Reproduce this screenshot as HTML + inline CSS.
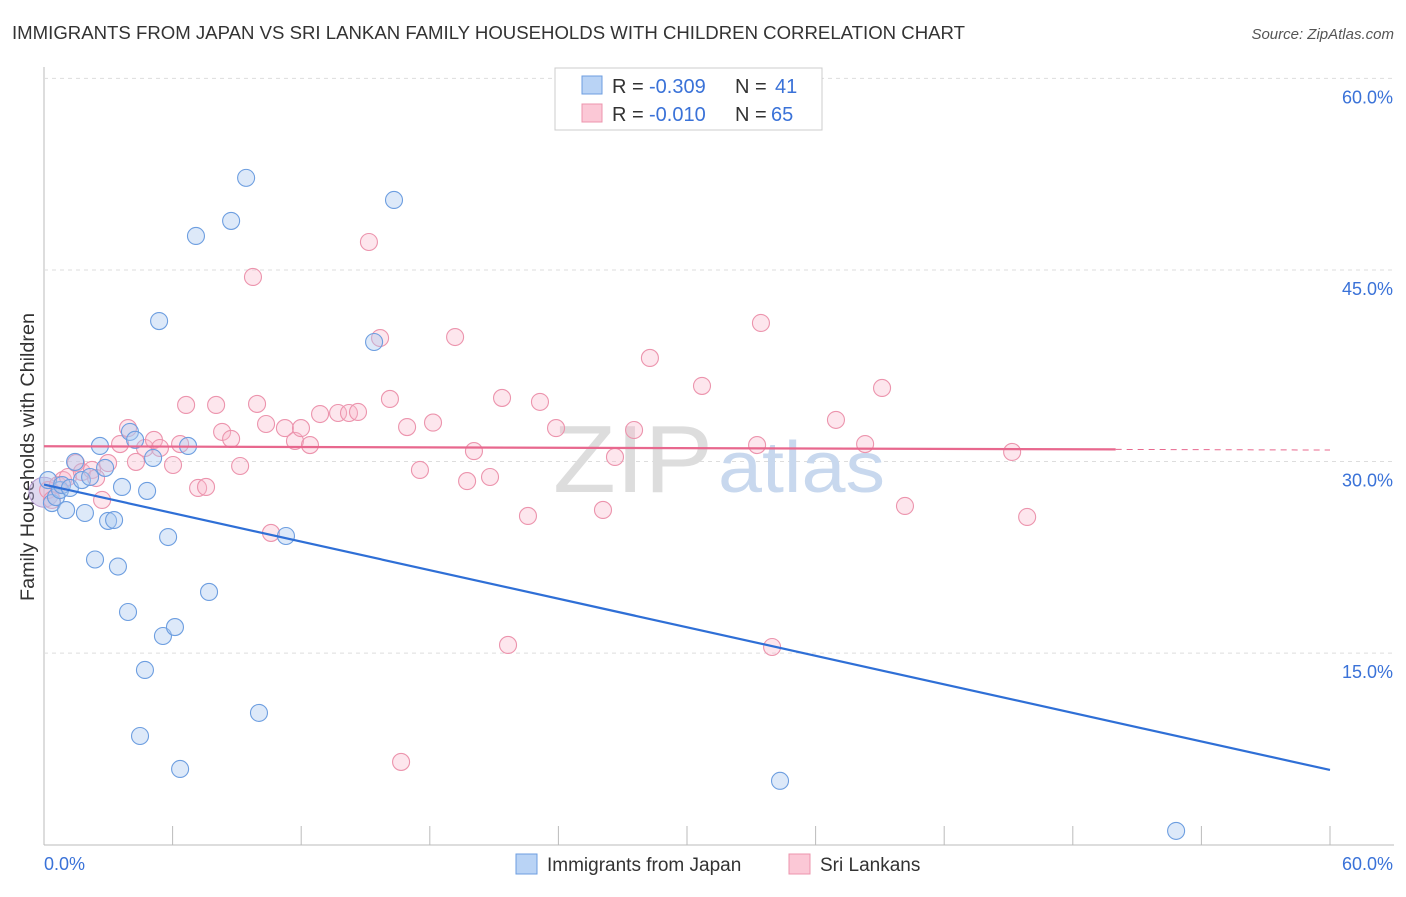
<!DOCTYPE html>
<html><head><meta charset="utf-8"><style>
body{margin:0;background:#fff;font-family:"Liberation Sans",sans-serif}
svg text{font-family:"Liberation Sans",sans-serif}
</style></head><body>
<svg id="chart" width="1406" height="892">
<text x="12" y="39" font-size="18" fill="#333" textLength="953" lengthAdjust="spacingAndGlyphs">IMMIGRANTS FROM JAPAN VS SRI LANKAN FAMILY HOUSEHOLDS WITH CHILDREN CORRELATION CHART</text>
<text x="1394" y="39" font-size="15" fill="#555" text-anchor="end" font-style="italic">Source: ZipAtlas.com</text>
<text x="0" y="0" transform="translate(34,457) rotate(-90)" font-size="19" fill="#333" text-anchor="middle" textLength="288" lengthAdjust="spacingAndGlyphs">Family Households with Children</text>
<g id="grid"></g>
<text x="553" y="492" font-size="96" fill="#ddd" font-family="Liberation Serif" textLength="160" lengthAdjust="spacingAndGlyphs">ZIP</text>
<text x="718" y="492" font-size="72" fill="#c8d8ee" textLength="167" lengthAdjust="spacingAndGlyphs">atlas</text>
<g id="pts"></g>
<g id="lines"></g>
<g>
<rect x="555" y="68" width="267" height="62" fill="#fff" stroke="#ccc"/>
<rect x="582" y="76" width="20" height="18" fill="#b9d3f5" stroke="#6d9ee0"/>
<rect x="582" y="104" width="20" height="18" fill="#fbc8d6" stroke="#ec94ad"/>
<text x="612" y="93" font-size="20" fill="#333">R =</text>
<text x="649" y="93" font-size="20" fill="#3a72d8">-0.309</text>
<text x="735" y="93" font-size="20" fill="#333">N =</text>
<text x="775" y="93" font-size="20" fill="#3a72d8">41</text>
<text x="612" y="121" font-size="20" fill="#333">R =</text>
<text x="649" y="121" font-size="20" fill="#3a72d8">-0.010</text>
<text x="735" y="121" font-size="20" fill="#333">N =</text>
<text x="771" y="121" font-size="20" fill="#3a72d8">65</text>
</g>
<g>
<rect x="516" y="854" width="21" height="20" fill="#b9d3f5" stroke="#6d9ee0"/>
<text x="547" y="871" font-size="19" fill="#333">Immigrants from Japan</text>
<rect x="789" y="854" width="21" height="20" fill="#fbc8d6" stroke="#ec94ad"/>
<text x="820" y="871" font-size="19" fill="#333">Sri Lankans</text>
</g>
<text x="44" y="870" font-size="18" fill="#3a72d8">0.0%</text>
<text x="1393" y="870" font-size="18" fill="#3a72d8" text-anchor="end">60.0%</text>
</svg>
<script>
const yTicks=[15,30,45,60];
const yTickLabels=["15.0%","30.0%","45.0%","60.0%"];
const xTicks=[0,6,12,18,24,30,36,42,48,54,60];
const japanX=[0.19,0.37,0.56,0.75,0.84,1.03,1.21,1.45,1.77,1.91,2.15,2.61,2.85,2.99,3.27,3.64,2.38,3.45,3.92,4.01,4.25,4.81,5.09,5.37,5.79,5.55,6.11,6.72,4.71,4.48,6.35,7.09,7.70,8.73,9.43,10.03,11.29,15.40,16.33,34.34,52.82];
const japanY=[28.55,26.75,27.22,27.77,28.16,26.20,27.93,29.97,28.55,25.97,28.79,31.22,29.50,25.35,25.42,28.01,22.33,21.78,18.22,32.32,31.70,27.70,30.28,41.00,24.09,16.34,17.04,31.22,13.68,8.51,5.93,47.66,19.79,48.84,52.21,10.32,24.17,39.36,50.48,5.0,1.08];
const sriX=[0.19,0.37,0.65,0.89,1.12,1.49,1.77,2.24,2.43,2.71,2.99,3.55,3.92,4.29,4.71,5.13,5.41,6.02,6.35,6.63,7.19,7.56,8.03,8.31,8.73,9.15,9.75,9.94,10.36,10.59,11.24,11.71,11.99,12.41,12.88,13.72,14.23,14.65,15.16,15.68,16.14,16.66,16.94,17.54,18.15,19.18,19.74,20.06,20.81,21.37,21.65,22.58,23.14,23.89,26.08,26.64,27.53,28.27,30.70,33.27,33.45,33.97,36.95,38.31,39.10,40.17,45.17,45.87];
const sriY=[27.77,26.99,28.16,28.55,28.79,29.88,29.18,29.34,28.71,26.99,29.88,31.37,32.62,29.97,31.06,31.69,31.06,29.73,31.37,34.43,27.93,28.01,34.43,32.32,31.77,29.65,44.45,34.51,32.94,24.41,32.62,31.61,32.62,31.29,33.72,33.80,33.80,33.88,47.19,39.67,34.90,6.48,32.70,29.34,33.05,39.75,28.47,30.82,28.79,34.98,15.64,25.74,34.67,32.62,26.21,30.36,32.47,38.11,35.92,31.29,40.85,15.48,33.26,31.37,35.76,26.52,30.75,25.66];
const japanTrend=[28.2,5.85];
const sriTrend=[31.2,30.9];
const sriSolidEnd=50;
const NS="http://www.w3.org/2000/svg";
const X=v=>44+v/60*1286, Y=v=>844.7-v*12.772;
function mk(tag,attrs,parent){const e=document.createElementNS(NS,tag);for(const k in attrs)e.setAttribute(k,attrs[k]);parent.appendChild(e);return e;}
const grid=document.getElementById('grid');
let ax=mk('line',{x1:44,y1:67,x2:44,y2:845,stroke:'#bbb'},grid);


let bx=mk('line',{x1:44,y1:845,x2:1394,y2:845,stroke:'#bbb'},grid);


yTicks.forEach((t,i)=>{
 const g=mk('line',{x1:44,x2:1394,y1:Y(t),y2:Y(t),stroke:'#ddd','stroke-dasharray':'4,4'},grid);
 
 
 const tx=mk('text',{x:1393,y:Y(t)+25,'font-size':18,fill:'#3a72d8','text-anchor':'end'},grid);
 tx.textContent=yTickLabels[i];
 
 
});
xTicks.forEach(t=>{
 const l=mk('line',{x1:X(t),x2:X(t),y1:826,y2:845,stroke:'#bbb'},grid);
 
 
});
const pts=document.getElementById('pts');
let big=mk('circle',{cx:X(0),cy:Y(27.6),r:15,fill:'rgba(185,170,220,0.45)',stroke:'#b59ad0'},pts);


sriX.forEach((x,i)=>{
 const c=mk('circle',{cx:X(x),cy:Y(sriY[i]),r:8.5,fill:'rgba(248,184,204,0.35)',stroke:'#ec94ad','stroke-width':1.1},pts);
 
 
});
japanX.forEach((x,i)=>{
 const c=mk('circle',{cx:X(x),cy:Y(japanY[i]),r:8.5,fill:'rgba(170,200,240,0.4)',stroke:'#6d9ee0','stroke-width':1.1},pts);
 
 
});
const lines=document.getElementById('lines');
const sy=x=>sriTrend[0]+(sriTrend[1]-sriTrend[0])*x/60;
let l1=mk('line',{x1:X(0),y1:Y(japanTrend[0]),x2:X(60),y2:Y(japanTrend[1]),stroke:'#2f6fd6','stroke-width':2.2},lines);


let l2=mk('line',{x1:X(0),y1:Y(sy(0)),x2:X(sriSolidEnd),y2:Y(sy(sriSolidEnd)),stroke:'#e8688e','stroke-width':2.2},lines);


let l3=mk('line',{x1:X(sriSolidEnd),y1:Y(sy(sriSolidEnd)),x2:X(60),y2:Y(sy(60)),stroke:'#e8688e','stroke-width':1,'stroke-dasharray':'6,5'},lines);


</script>
</body></html>
